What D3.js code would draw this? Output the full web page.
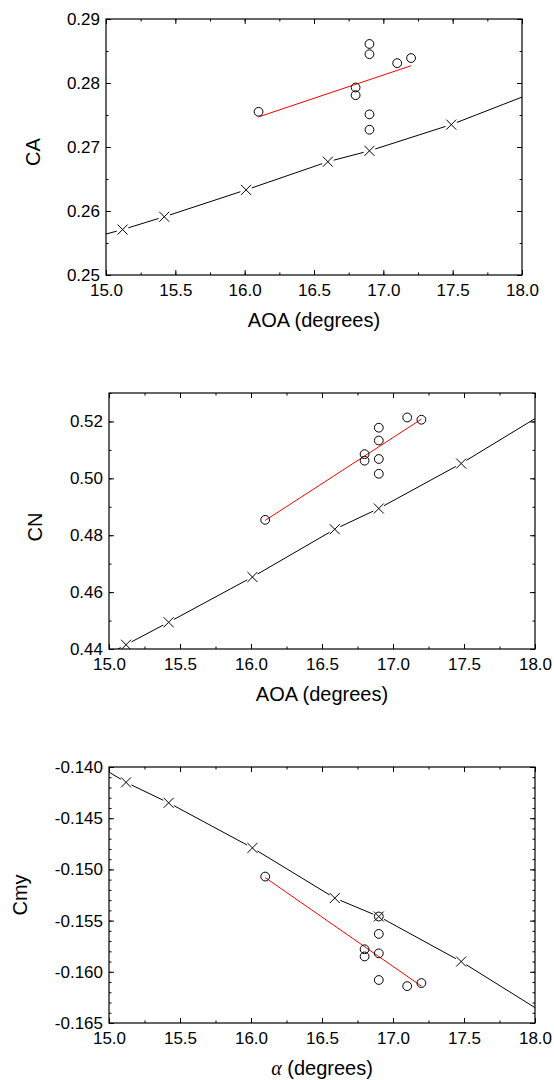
<!DOCTYPE html>
<html>
<head>
<meta charset="utf-8">
<script src="https://cdn.jsdelivr.net/npm/d3@7"></script>
<style>
  body { margin: 0; background: #fff; }
  svg { display: block; font-family: "Liberation Sans", Arial, sans-serif; }
</style>
</head>
<body>
<div id="chart"></div>
<script>
// ---- data ----
const xTicks = [15.0, 15.5, 16.0, 16.5, 17.0, 17.5, 18.0];

// CA panel
const caCrossX = [15.12, 15.42, 16.01, 16.6, 16.9, 17.49];
const caCrossY = [0.2571, 0.2591, 0.2633, 0.2677, 0.2694, 0.2735];
const caLineEndX = [15.0, 18.0];
const caLineEndY = [0.2564, 0.2778];
const caCircX = [16.1, 16.8, 16.8, 16.9, 16.9, 16.9, 16.9, 17.1, 17.2];
const caCircY = [0.2755, 0.2793, 0.2781, 0.2861, 0.2845, 0.2751, 0.2727, 0.2831, 0.2839];
const caFitX = [16.1, 17.2];
const caFitY = [0.2747, 0.2827];
const caTicks = [0.25, 0.26, 0.27, 0.28, 0.29];

// CN panel
const cnCrossX = [15.12, 15.42, 16.01, 16.59, 16.9, 17.48];
const cnCrossY = [0.4415, 0.4494, 0.4653, 0.4821, 0.4894, 0.5052];
const cnLineEndX = [15.0, 18.0];
const cnLineEndY = [0.4383, 0.5210];
const cnCircX = [16.1, 16.8, 16.8, 16.9, 16.9, 16.9, 16.9, 17.1, 17.2];
const cnCircY = [0.4854, 0.5085, 0.5062, 0.5178, 0.5133, 0.5068, 0.5016, 0.5214, 0.5206];
const cnFitX = [16.1, 17.2];
const cnFitY = [0.4852, 0.5208];
const cnTicks = [0.44, 0.46, 0.48, 0.50, 0.52];

// Cmy panel
const cmCrossX = [15.12, 15.42, 16.01, 16.59, 16.9, 17.48];
const cmCrossY = [-0.1415, -0.1435, -0.1479, -0.1528, -0.1546, -0.1590];
const cmLineEndX = [15.0, 18.0];
const cmLineEndY = [-0.1405, -0.1635];
const cmCircX = [16.1, 16.8, 16.8, 16.9, 16.9, 16.9, 16.9, 17.1, 17.2];
const cmCircY = [-0.1507, -0.1578, -0.1585, -0.1546, -0.1563, -0.1582, -0.1608, -0.1614, -0.1611];
const cmFitX = [16.1, 17.2];
const cmFitY = [-0.1508, -0.1614];
const cmTicks = [-0.165, -0.160, -0.155, -0.150, -0.145, -0.140];

// ---- layout ----
const W = 554, H = 1080;
const svg = d3.select("#chart").append("svg")
    .attr("width", W)
    .attr("height", H);

// plain hyphen for negatives, like the original plot
const loc = d3.formatLocale({ decimal: ".", thousands: ",", grouping: [3], currency: ["", ""], minus: "-" });

const zip = (xs, ys) => xs.map((x, i) => ({ x: x, y: ys[i] }));

const panels = [
    {
        id: "ca", box: { left: 106, right: 522, top: 19, bottom: 275 },
        yDomain: [0.25, 0.29], yTicks: caTicks, yMinorStep: 0.005, yFmt: loc.format(".2f"),
        cross: zip(caCrossX, caCrossY), ends: zip(caLineEndX, caLineEndY),
        circ: zip(caCircX, caCircY), fit: zip(caFitX, caFitY),
        yTitle: "CA", yTitleX: 33, yTitleDy: 5, xTitle: "AOA (degrees)"
    },
    {
        id: "cn", box: { left: 109, right: 535, top: 393, bottom: 649 },
        yDomain: [0.44, 0.53], yTicks: cnTicks, yMinorStep: 0.01, yFmt: loc.format(".2f"),
        cross: zip(cnCrossX, cnCrossY), ends: zip(cnLineEndX, cnLineEndY),
        circ: zip(cnCircX, cnCircY), fit: zip(cnFitX, cnFitY),
        yTitle: "CN", yTitleX: 35, yTitleDy: 6, xTitle: "AOA (degrees)"
    },
    {
        id: "cm", box: { left: 109, right: 535, top: 767, bottom: 1023 },
        yDomain: [-0.165, -0.140], yTicks: cmTicks, yMinorStep: 0.001, yFmt: loc.format(".3f"),
        cross: zip(cmCrossX, cmCrossY), ends: zip(cmLineEndX, cmLineEndY),
        circ: zip(cmCircX, cmCircY), fit: zip(cmFitX, cmFitY),
        yTitle: "Cmy", yTitleX: 20, yTitleDy: 0, xTitle: null
    }
];

const minorRange = (a, b, step) => {
    const out = [];
    const n = Math.round((b - a) / step);
    for (let i = 0; i <= n; i++) out.push(+(a + i * step).toFixed(6));
    return out;
};

panels.forEach(p => {
    const b = p.box;
    const w = b.right - b.left, h = b.bottom - b.top;
    const g = svg.append("g").attr("transform", "translate(" + b.left + "," + b.top + ")");

    const x = d3.scaleLinear().domain([15, 18]).range([0, w]);
    const y = d3.scaleLinear().domain(p.yDomain).range([h, 0]);

    const xMinor = minorRange(15, 18, 0.25);
    const yMinor = minorRange(p.yDomain[0], p.yDomain[1], p.yMinorStep);

    // minor ticks on all four sides (inward)
    const minorAxes = [
        [d3.axisBottom(x).tickValues(xMinor), "translate(0," + h + ")"],
        [d3.axisTop(x).tickValues(xMinor), null],
        [d3.axisLeft(y).tickValues(yMinor), null],
        [d3.axisRight(y).tickValues(yMinor), "translate(" + w + ",0)"]
    ];
    minorAxes.forEach(([ax, tr]) => {
        const a = g.append("g").call(ax.tickSize(-2.5).tickFormat(""));
        if (tr) a.attr("transform", tr);
        a.select(".domain").remove();
    });

    // major ticks
    const xb = g.append("g").attr("transform", "translate(0," + h + ")")
        .call(d3.axisBottom(x).tickValues(xTicks).tickSize(-5).tickPadding(9).tickFormat(d3.format(".1f")));
    g.append("g").call(d3.axisTop(x).tickValues(xTicks).tickSize(-5).tickFormat(""));
    const yl = g.append("g")
        .call(d3.axisLeft(y).tickValues(p.yTicks).tickSize(-5).tickPadding(6).tickFormat(p.yFmt));
    g.append("g").attr("transform", "translate(" + w + ",0)")
        .call(d3.axisRight(y).tickValues(p.yTicks).tickSize(-5).tickFormat(""));
    g.selectAll(".domain").remove();
    g.selectAll(".tick line").attr("stroke", "#000").attr("stroke-width", 1);
    xb.selectAll("text").attr("font-size", 17).attr("fill", "#000").attr("font-family", "Liberation Sans, Arial, sans-serif");
    yl.selectAll("text").attr("font-size", 17).attr("fill", "#000").attr("font-family", "Liberation Sans, Arial, sans-serif");

    // frame
    g.append("rect")
        .attr("width", w).attr("height", h)
        .attr("fill", "none").attr("stroke", "#000").attr("stroke-width", 1.2);

    // clip
    g.append("clipPath").attr("id", "clip-" + p.id)
        .append("rect").attr("width", w).attr("height", h);
    const plot = g.append("g").attr("clip-path", "url(#clip-" + p.id + ")");

    // black line through the crosses, broken around each marker
    const pts = [
        { x: p.ends[0].x, y: p.ends[0].y, m: false },
        ...p.cross.map(d => ({ x: d.x, y: d.y, m: true })),
        { x: p.ends[1].x, y: p.ends[1].y, m: false }
    ];
    const gap = 6;
    const segs = [];
    for (let i = 0; i < pts.length - 1; i++) {
        const a = pts[i], c = pts[i + 1];
        const x1 = x(a.x), y1 = y(a.y), x2 = x(c.x), y2 = y(c.y);
        const len = Math.hypot(x2 - x1, y2 - y1);
        const ux = (x2 - x1) / len, uy = (y2 - y1) / len;
        const s = a.m ? gap : 0, e = c.m ? gap : 0;
        segs.push({ x1: x1 + ux * s, y1: y1 + uy * s, x2: x2 - ux * e, y2: y2 - uy * e });
    }
    plot.selectAll("line.seg").data(segs).enter().append("line")
        .attr("class", "seg")
        .attr("x1", d => d.x1).attr("y1", d => d.y1)
        .attr("x2", d => d.x2).attr("y2", d => d.y2)
        .attr("stroke", "#000").attr("stroke-width", 1);

    // crosses
    const cr = 5;
    const cg = plot.selectAll("g.cross").data(p.cross).enter().append("g")
        .attr("class", "cross")
        .attr("transform", d => "translate(" + x(d.x) + "," + y(d.y) + ")");
    cg.append("line").attr("x1", -cr).attr("y1", -cr).attr("x2", cr).attr("y2", cr)
        .attr("stroke", "#000").attr("stroke-width", 1);
    cg.append("line").attr("x1", -cr).attr("y1", cr).attr("x2", cr).attr("y2", -cr)
        .attr("stroke", "#000").attr("stroke-width", 1);

    // red fit line
    plot.append("path")
        .datum(p.fit)
        .attr("d", d3.line().x(d => x(d.x)).y(d => y(d.y)))
        .attr("fill", "none").attr("stroke", "#ff0000").attr("stroke-width", 1);

    // circles
    plot.selectAll("circle.pt").data(p.circ).enter().append("circle")
        .attr("class", "pt")
        .attr("cx", d => x(d.x)).attr("cy", d => y(d.y))
        .attr("r", 4.4)
        .attr("fill", "none").attr("stroke", "#000").attr("stroke-width", 1);

    // y title
    svg.append("text")
        .attr("transform", "translate(" + p.yTitleX + "," + ((b.top + b.bottom) / 2 + p.yTitleDy) + ") rotate(-90)")
        .attr("text-anchor", "middle")
        .attr("dy", "0.36em")
        .attr("font-size", 20)
        .attr("fill", "#000")
        .text(p.yTitle);

    // x title
    const xt = svg.append("text")
        .attr("x", (b.left + b.right) / 2)
        .attr("y", b.bottom + 52)
        .attr("text-anchor", "middle")
        .attr("font-size", 20)
        .attr("fill", "#000");
    if (p.xTitle) {
        xt.text(p.xTitle);
    } else {
        xt.append("tspan")
            .attr("font-family", "Liberation Serif, serif")
            .attr("font-style", "italic")
            .text("α");
        xt.append("tspan").text(" (degrees)");
    }
});
</script>
</body>
</html>
